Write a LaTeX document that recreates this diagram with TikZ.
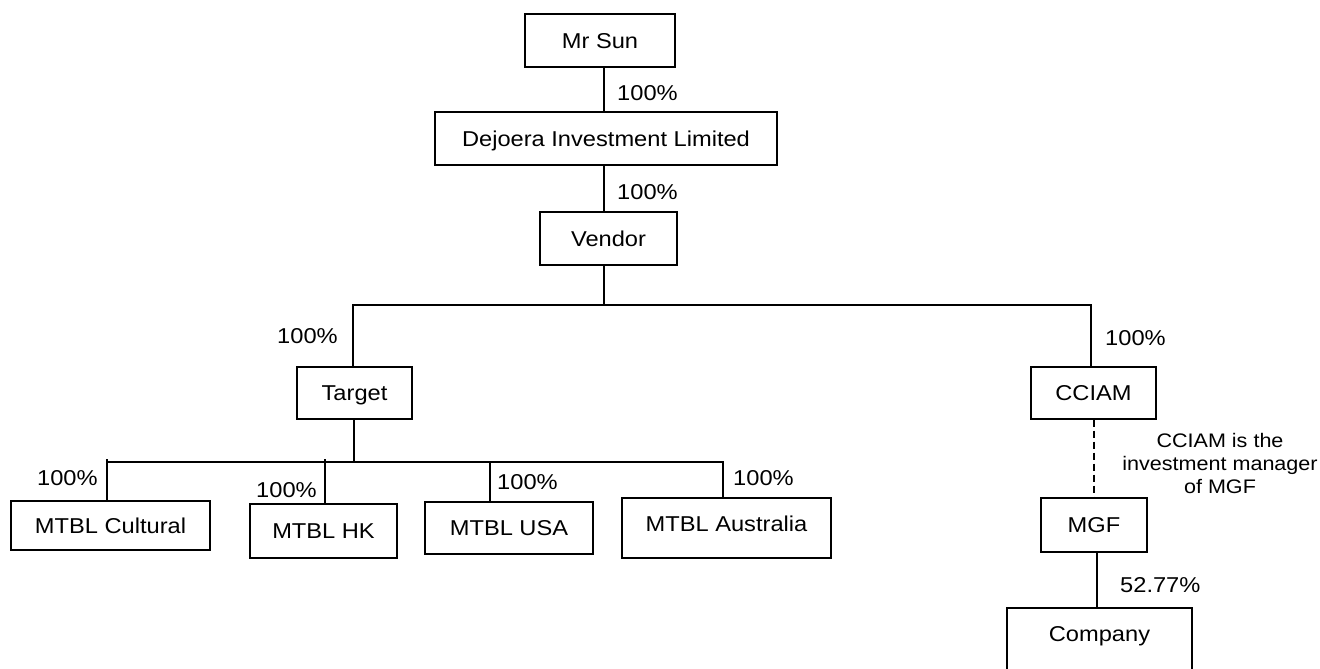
\documentclass[tikz,border=0pt]{standalone}
\usepackage{fontspec}
\setmainfont{Liberation Sans}[FakeStretch=1.1]
\newcommand\mainfnt{\fontsize{21.5}{25}\selectfont}
\newcommand\notefnt{\fontsize{19.6}{23}\selectfont}
\tikzset{
  box/.style={draw, line width=1.3pt, inner sep=0pt, text height=15.4pt, text depth=0pt, font=\mainfnt},
  pct/.style={inner sep=0pt, anchor=base west, font=\mainfnt},
  link/.style={line width=1.3pt},
  dlink/.style={line width=1.1pt, dash pattern=on 7pt off 4pt},
}
\begin{document}
\begin{tikzpicture}[x=1pt, y=-1pt]
\clip (0,0) rectangle (1320,669);
\fill[white] (0,0) rectangle (1320,669);
% boxes
\node[box, minimum width=150pt, minimum height=53pt] (sun) at (600,40.5) {Mr Sun};
\node[box, minimum width=342pt, minimum height=53pt] (dejoera) at (606,138.5) {Dejoera Investment Limited};
\node[box, minimum width=137pt, minimum height=53pt] (vendor) at (608.5,238.5) {Vendor};
\node[box, minimum width=115pt, minimum height=52pt] (target) at (354.5,393) {Target};
\node[box, minimum width=125pt, minimum height=52pt] (cciam) at (1093.5,393) {CCIAM};
\node[box, minimum width=106pt, minimum height=54pt] (mgf) at (1094,525) {MGF};
\node[box, minimum width=185pt, minimum height=82pt, text depth=30pt] (company) at (1099.5,649) {Company};
\node[box, minimum width=199pt, minimum height=49pt] (cultural) at (110.5,525.5) {MTBL Cultural};
\node[box, minimum width=147pt, minimum height=54pt] (hk) at (323.5,531) {MTBL HK};
\node[box, minimum width=168pt, minimum height=52pt] (usa) at (509,528) {MTBL USA};
\node[box, minimum width=209pt, minimum height=60pt, text depth=9pt] (australia) at (726.5,528) {MTBL Australia};
% helper coordinates
\coordinate (vx) at (604,0);
\coordinate (tx) at (353,305);
\coordinate (cx) at (1091,305);
\coordinate (tgx) at (354,462);
\coordinate (cl) at (107,459);
\coordinate (bl) at (107,462);
\coordinate (br) at (723,462);
\coordinate (hkx) at (325,459);
\coordinate (ux) at (490,462);
\coordinate (dx) at (1094,0);
\coordinate (mx) at (1097,0);
% connectors
\draw[link] (sun.south -| vx) -- (dejoera.north -| vx);
\draw[link] (dejoera.south -| vx) -- (vendor.north -| vx);
\draw[link] (vendor.south -| vx) -- (vx |- cx);
\draw[link] (target.north -| tx) |- (cx) -- (cciam.north -| cx);
\draw[link] (target.south -| tgx) -- (tgx);
\draw[link] (cultural.north -| cl) -- (cl);
\draw[link] (bl) -- (br) -- (australia.north -| br);
\draw[link] (hk.north -| hkx) -- (hkx);
\draw[link] (usa.north -| ux) -- (ux);
\draw[dlink] (cciam.south -| dx) -- (mgf.north -| dx);
\draw[link] (mgf.south -| mx) -- (company.north -| mx);
% labels
\node[pct] (l1) at (617,100.7) {100\%};
\node[pct] (l2) at (617,199.9) {100\%};
\node[pct] (l3) at (277,343.9) {100\%};
\node[pct] (l4) at (1105,345.9) {100\%};
\node[pct] (l5) at (37,485.9) {100\%};
\node[pct] (l6) at (256,497.9) {100\%};
\node[pct] (l7) at (497,489.9) {100\%};
\node[pct] (l8) at (733,485.9) {100\%};
\node[pct] (l9) at (1120,592.9) {52.77\%};
\node[inner sep=0pt, anchor=base, align=center, font=\notefnt] (note) at (1220,493) {CCIAM is the\\investment manager\\of MGF};
\end{tikzpicture}
\end{document}
